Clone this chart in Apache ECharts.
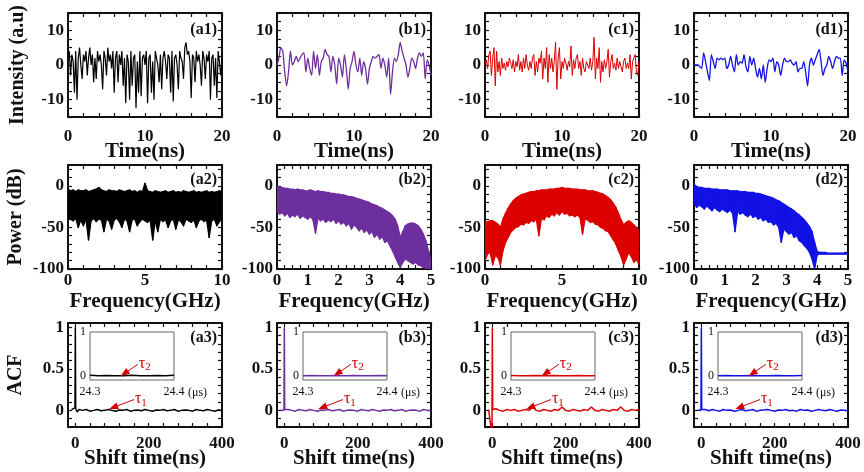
<!DOCTYPE html>
<html>
<head>
<meta charset="utf-8">
<script src="https://cdn.jsdelivr.net/npm/echarts@6/dist/echarts.min.js"></script>
<style>
html, body { margin: 0; padding: 0; background: #fff; }
#chart { width: 864px; height: 472px; }
</style>
</head>
<body>
<div id="chart"></div>
<script>
// ---- data ----
// row 1: intensity time series, 0..20 ns, evenly sampled
var intensityA = [
  2, 4, -3, 3, 1, -8, 4, -10, 2, 5, 0, -4,
  3, 1, 4, -3, 2, 5, 0, 3, -5, 2, -4, 4,
  1, 3, 0, -7, 4, 2, -3, 5, 1, 3, -1, 4,
  -8, 2, 4, -5, 3, 0, 4, -6, 2, -11, 3, 1,
  -10, 4, -6, 2, 3, -12.5, 1, -8, 4, -9, 2, 3,
  0, 4, -11, 2, 3, -8, 1, -10, 4, 2, 0, -5,
  3, -7, 2, 4, 1, -4, 3, 2, -8, 4, -10.5, 2,
  3, 0, -7, 4, 2, 1, -4, 5, 6.5, 3, 4, 1,
  -9.5, 3, 2, -5, 4, 1, 3, 0, -6, 4, 2, -4,
  3, 1, 4, -10, 2, 3, -6, 2, -9.5, 4, 1, -3,
  2
];
var intensityB = [
  0, 2, 5, 4, -2, -6, -2, 4, 0, 1,
  2.5, 1, 2, 3, 3.5, -2, 2, -1, -3, 4,
  -1, 3, -3, 1, 2, 4.5, 3, 2.5, -2, 2.5,
  0, -5.5, 2, 0, -3.5, 3, -1, -7, -1, 1,
  4, 0, -2, 2, -3, 1, -1, -5.5, -1, 1,
  2.5, 2, 2.5, 3, -1, 2, 0, -3.5, 2, -8.5,
  -2, 2, 1, 3, 6.5, 4, 2, 0, -3.5, -1,
  2, 1, -1, 2, 3.5, 2.5, 3.5, -4, 1.5, 0,
  -3
];
var intensityC = [
  0, 1.5, -1, 3, 4, -3, 2, 5, -6, 4, -2, 1,
  -3, 2, -1, 0.5, -1.5, 1, -0.5, 2, 0.5, -1, 1.5, -2,
  1, -0.5, 3, -1.5, 1, -2, 2, -1, 3, 0, -1.5, 1,
  -1, 2, 3, -3, 1, -2, 2, 0.5, 4, -4, 2, -1,
  5, -5, 3, -1, 2, -2, 1, 6.5, -7, 2, 5, -4,
  1, -1, 2, 0.5, -1.5, 1, -0.5, 5.5, -3, 1.5, -1, 2,
  3, -1, 1, -3, 2, -1, -2, 1, 0.5, -1, 2, -1.5,
  1, 8, -4, 2, -1, 5, -5, 1, -2, 1.5, -1, 1,
  4.5, -3.5, 1, 3, -1, 0.5, -1.5, 2, -1, 1, -0.5, -2,
  1, 2, -1, 0.5, -1, 3, -4, 1, 0.5, 3, -2, -3,
  1
];
var intensityD = [
  0, 0, 0, -0.5, -1, 3.5, 1, -2, -4.5, 3,
  1, -1, 2, 1.5, 2, 1.5, 2, -1, 0, 2.5,
  0, -2, 3, 0, 1, 0.5, 3, -0.5, -2, 2.5,
  0, 2, -1, -3.5, -1, -4, 0, -5, -1, 1.5,
  1, 2, -2, 1, 0, -3, 0, 2, 1, 1,
  1.5, 0.5, 0, 1, -2, -1, -1, 1, -2, -6,
  0, 2, 0, 1.5, 3, 4.5, 1, -3, -1, 0,
  2.5, 1, -1, 1, 2.5, 2, 2, -3, 1.5, 0.5,
  -2
];

// row 2: power spectra, upper and lower edge of the trace (dB), evenly sampled
var powerAHigh = [
  -4, -6, -5, -7, -5, -6, -6, -5, -7, -6,
  -5, -4, -2, -5, -6, -7, -5, -6, -6, -7,
  -5, -6, -7, -6, -5, -7, -6, -8, -6, -7,
  3, -6, -7, -8, -6, -7, -8, -7, -6, -8,
  -7, -6, -8, -7, -8, -6, -7, -8, -7, -6,
  -8, -7, -8, -7, -6, -8, -7, -8, -7, -6,
  -7
];
var powerALow = [
  -38, -40, -42, -39, -50, -41, -48, -40, -65, -42,
  -39, -43, -40, -41, -55, -40, -42, -52, -41, -39,
  -43, -50, -40, -42, -55, -41, -40, -48, -43, -40,
  -42, -44, -41, -65, -42, -55, -40, -43, -41, -50,
  -42, -40, -52, -41, -43, -48, -40, -42, -44, -41,
  -50, -42, -40, -43, -41, -62, -42, -40, -48, -43,
  -40
];
var powerBHigh = [
  -1, -2, -2, -3, -3, -4, -4, -5, -4, -5,
  -5, -6, -6, -5, -6, -7, -6, -7, -7, -8,
  -8, -9, -9, -10, -10, -11, -11, -12, -13, -13,
  -14, -15, -16, -17, -18, -19, -20, -22, -23, -24,
  -26, -27, -29, -31, -33, -36, -40, -48, -62, -55,
  -48, -46, -45, -45, -46, -48, -52, -58, -66, -78,
  -92
];
var powerBLow = [
  -30, -34, -32, -36, -33, -38, -35, -37, -34, -39,
  -36, -38, -40, -37, -41, -57, -39, -42, -40, -44,
  -41, -43, -40, -45, -42, -46, -44, -48, -45, -52,
  -47, -50, -54, -51, -56, -53, -58, -55, -62, -58,
  -64, -61, -68, -66, -72, -78, -85, -92, -98, -92,
  -88, -90, -92, -94, -92, -95, -96, -98, -99, -100,
  -100
];
var powerCHigh = [
  -45, -43, -42, -42, -44, -46, -50, -40, -33, -27,
  -22, -18, -15, -13, -11, -10, -9, -8, -7, -7,
  -6, -6, -5, -5, -5, -4, -4, -4, -3, -3,
  -2, -3, -3, -3, -4, -4, -4, -5, -5, -5,
  -6, -6, -6, -7, -8, -9, -10, -12, -14, -17,
  -21, -26, -33, -41, -47, -44, -42, -44, -47, -50,
  -55
];
var powerCLow = [
  -90, -82, -80, -95, -84, -86, -95, -78, -68, -62,
  -56, -53, -50, -49, -46, -47, -44, -45, -42, -43,
  -40, -60, -39, -41, -36, -38, -34, -36, -32, -35,
  -31, -34, -33, -36, -35, -37, -35, -38, -58, -40,
  -41, -44, -43, -46, -47, -50, -51, -54, -55, -60,
  -65, -70, -78, -85, -95, -88, -80, -85, -92, -88,
  -95
];
var powerDHigh = [
  2, -1, -2, -2, -3, -3, -3, -4, -4, -4,
  -5, -5, -5, -5, -6, -6, -6, -6, -7, -7,
  -7, -8, -8, -8, -9, -9, -10, -11, -12, -13,
  -14, -15, -17, -18, -20, -22, -24, -26, -28, -30,
  -33, -35, -38, -41, -45, -49, -55, -68, -79, -80,
  -80, -80, -81, -81, -81, -81, -81, -81, -81, -81,
  -81
];
var powerDLow = [
  -20, -26, -23, -25, -28, -24, -27, -30, -26, -29,
  -31, -28, -30, -32, -29, -33, -55, -31, -34, -32,
  -35, -37, -34, -38, -36, -40, -38, -42, -40, -44,
  -43, -47, -45, -50, -68, -52, -55, -58, -56, -62,
  -60, -66, -68, -72, -75, -80, -88, -100, -83, -82,
  -82, -82, -82, -82, -82, -82, -82, -82, -82, -82,
  -82
];

// row 3: autocorrelation
var acfLag = [
  -10, -5, -1, 0, 1, 5, 10, 20, 30, 40,
  50, 60, 70, 80, 90, 100, 110, 120, 130, 140,
  150, 160, 170, 180, 190, 200, 210, 220, 230, 240,
  250, 260, 270, 280, 290, 300, 310, 320, 330, 340,
  350, 360, 370, 380, 390, 400
];
var acfA = [
  0.01, 0, 0.03, 1, 0.02, -0.02, 0.01, 0, 0.01, -0.01,
  0, 0.01, -0.005, 0, 0.01, 0, -0.01, 0.005, 0, 0.01,
  -0.01, 0, 0.005, -0.005, 0.01, 0, -0.01, 0.005, 0, 0.01,
  -0.005, 0, 0.01, -0.01, 0, 0.005, 0, -0.01, 0.01, 0,
  -0.005, 0.01, 0, -0.01, 0.005, 0
];
var acfB = [
  0, 0.01, 0, 1, 0.01, -0.01, 0.01, 0, -0.01, 0.01,
  0, -0.005, 0.01, 0, -0.01, 0.005, 0, 0.01, -0.005, 0,
  0.01, -0.01, 0, 0.005, 0, -0.01, 0.01, 0, -0.005, 0.01,
  0, -0.01, 0.005, 0, 0.01, -0.005, 0, 0.01, -0.01, 0,
  0.005, 0, -0.01, 0.01, 0, -0.005
];
var acfC = [
  0.01, -0.01, -0.3, 1, 0.01, -0.01, 0.02, 0, -0.01, 0.01,
  0, 0.01, -0.01, 0, 0.01, 0, 0.04, 0, -0.01, 0.01,
  0, -0.01, 0.01, 0, 0.04, 0, -0.01, 0.01, 0, -0.01,
  0.01, 0, 0.04, 0, -0.01, 0.01, 0, -0.01, 0.01, 0,
  0.04, 0, -0.01, 0.01, 0, 0.01
];
var acfD = [
  0, 0.01, 0, 1, 0.01, -0.01, 0.01, -0.005, 0.01, 0,
  -0.01, 0.01, 0, 0.005, -0.01, 0, 0.01, -0.005, 0, 0.01,
  -0.01, 0, 0.005, 0.01, 0, -0.01, 0.005, 0, 0.01, -0.005,
  0, -0.01, 0.01, 0, 0.005, -0.01, 0, 0.01, 0, -0.005,
  0.01, 0, -0.01, 0.005, 0, -0.005
];
// insets: 24.3 .. 24.4 us
var insetLag = [24.30, 24.31, 24.32, 24.33, 24.34, 24.35, 24.36, 24.37, 24.38, 24.39, 24.40];
var insetA = [0.01, 0, 0.005, -0.005, 0, 0.01, 0, -0.005, 0.005, 0, 0.01];
var insetB = [0, 0.005, 0, -0.005, 0.005, 0, 0.005, 0, -0.005, 0.005, 0];
var insetC = [0.005, 0, -0.005, 0.005, 0, 0.005, -0.005, 0, 0.005, 0, 0];
var insetD = [0, 0.005, -0.005, 0, 0.005, 0, -0.005, 0.005, 0, 0, 0.005];

// tick labels
var timeLabels = [0, 10, 20];
var freqLabels10 = [0, 5, 10];
var freqLabels5 = [0, 1, 2, 3, 4, 5];
var shiftLabels = [0, 200, 400];
var intensityLabels = [-10, 0, 10];
var powerLabels = [-100, -50, 0];
var acfLabels = [0, 0.5, 1];
var insetXLabels = [24.3, 24.4];
var insetYLabels = [0, 1];

var panelNames = [
  ['(a1)', '(b1)', '(c1)', '(d1)'],
  ['(a2)', '(b2)', '(c2)', '(d2)'],
  ['(a3)', '(b3)', '(c3)', '(d3)']
];

// ---- layout & style ----
var SERIF = '"Liberation Serif", "Times New Roman", serif';
var INK = '#111';
var RED = '#d40000';
var colors = ['#000000', '#6e2f9e', '#dc0000', '#1212e6'];
var colLeft = [68, 277, 485, 694];
var rowTop = [13, 165, 323];
var plotW = 154, plotH = 104;
var insetLeft = [90, 303, 511, 718];
var insetTop = 332, insetW = 84, insetH = 48;

function range(a, b, s) {
  var r = [];
  for (var k = 0; a + k * s <= b + 1e-9; k++) r.push(+(a + k * s).toFixed(4));
  return r;
}
function sampled(vals, span) {
  var n = vals.length - 1;
  return vals.map(function (v, i) { return [span * i / n, v]; });
}
function paired(xs, ys) {
  return ys.map(function (v, i) { return [xs[i], v]; });
}
// one quad per pair of neighbouring samples: [x0, lo0, hi0, x1, lo1, hi1]
function bandData(lo, hi, span) {
  var n = lo.length - 1, out = [];
  for (var i = 0; i < n; i++) {
    out.push([span * i / n, lo[i], hi[i], span * (i + 1) / n, lo[i + 1], hi[i + 1]]);
  }
  return out;
}
function bandRenderer(col) {
  return function (params, api) {
    var pts = [
      api.coord([api.value(0), api.value(2)]),
      api.coord([api.value(3), api.value(5)]),
      api.coord([api.value(3), api.value(4)]),
      api.coord([api.value(0), api.value(1)])
    ];
    return {
      type: 'polygon', shape: { points: pts },
      style: { fill: col, stroke: col, lineWidth: 1.3, lineJoin: 'round' }
    };
  };
}

var xSpecs = [
  [0, 1, 2, 3].map(function () {
    return { min: 0, max: 20, labels: timeLabels, ticks: range(0, 20, 2), margin: 11, name: 'Time(ns)', nameGap: 24 };
  }),
  [0, 1, 2, 3].map(function (c) {
    var wide = (c % 2 === 0);
    return {
      min: 0, max: wide ? 10 : 5,
      labels: wide ? freqLabels10 : freqLabels5,
      ticks: wide ? range(0, 10, 1) : range(0, 5, 0.25),
      margin: 3, name: 'Frequency(GHz)', nameGap: 22
    };
  }),
  [0, 1, 2, 3].map(function () {
    return { min: -20, max: 400, labels: shiftLabels, ticks: range(0, 400, 40), margin: 8, name: 'Shift time(ns)', nameGap: 21 };
  })
];
var ySpecs = [
  { min: -15, max: 15, labels: intensityLabels, ticks: range(-15, 15, 2.5), margin: 4, name: 'Intensity (a.u)', nameGap: 40 },
  { min: -100, max: 25, labels: powerLabels, ticks: range(-100, 20, 10), margin: 4, name: 'Power (dB)', nameGap: 42 },
  { min: -0.2, max: 1.05, labels: acfLabels, ticks: range(-0.2, 1, 0.1), margin: 4, name: 'ACF', nameGap: 42 }
];

var grids = [], xAxes = [], yAxes = [], series = [], graphics = [];

function frameAxis(kind, gi, spec, mirror, withName) {
  var a = {
    type: 'value', gridIndex: gi, min: spec.min, max: spec.max,
    position: kind === 'x' ? (mirror ? 'top' : 'bottom') : (mirror ? 'right' : 'left'),
    axisLine: { show: true, onZero: false, lineStyle: { color: INK, width: 2 } },
    axisTick: { show: true, inside: true, length: 4, customValues: spec.ticks, lineStyle: { color: INK, width: 1.2 } },
    axisLabel: {
      show: !mirror, customValues: spec.labels, margin: spec.margin,
      color: INK, fontFamily: SERIF, fontWeight: 'bold', fontSize: 17
    },
    splitLine: { show: false },
    silent: true
  };
  if (!mirror && withName) {
    a.name = spec.name;
    a.nameLocation = 'middle';
    a.nameGap = spec.nameGap;
    a.nameMoveOverlap = false;
    a.nameTextStyle = { color: INK, fontFamily: SERIF, fontWeight: 'bold', fontSize: kind === 'x' ? 21 : 20 };
  }
  return a;
}

function tauLabel(sub) {
  return {
    show: true, position: 'start', distance: 1, color: RED,
    formatter: '{t|τ}{s|' + sub + '}',
    rich: {
      t: { fontFamily: SERIF, fontSize: 16, color: RED, lineHeight: 18 },
      s: { fontFamily: SERIF, fontSize: 11, color: RED, verticalAlign: 'bottom', lineHeight: 11 }
    }
  };
}
function tauLine(from, to, sub) {
  return {
    silent: true, animation: false,
    symbol: ['none', 'triangle'], symbolSize: [7, 9],
    lineStyle: { color: RED, width: 1, type: 'solid' },
    itemStyle: { color: RED },
    label: tauLabel(sub),
    emphasis: { disabled: true },
    data: [[{ coord: from }, { coord: to }]]
  };
}

var timeSeries = [intensityA, intensityB, intensityC, intensityD];
var highs = [powerAHigh, powerBHigh, powerCHigh, powerDHigh];
var lows = [powerALow, powerBLow, powerCLow, powerDLow];
var acfs = [acfA, acfB, acfC, acfD];
var insets = [insetA, insetB, insetC, insetD];

for (var r = 0; r < 3; r++) {
  for (var c = 0; c < 4; c++) {
    var gi = grids.length;
    grids.push({ left: colLeft[c], top: rowTop[r], width: plotW, height: plotH, show: false, outerBoundsMode: 'none' });
    var xs = xSpecs[r][c], ys = ySpecs[r];
    var xi = xAxes.length, yi = yAxes.length;
    xAxes.push(frameAxis('x', gi, xs, false, true));
    xAxes.push(frameAxis('x', gi, xs, true, false));
    yAxes.push(frameAxis('y', gi, ys, false, c === 0));
    yAxes.push(frameAxis('y', gi, ys, true, false));

    var col = colors[c];
    if (r === 0) {
      series.push({
        type: 'line', xAxisIndex: xi, yAxisIndex: yi,
        data: sampled(timeSeries[c], 20), showSymbol: false, symbol: 'none',
        smooth: (c % 2 === 1) ? 0.25 : false,
        lineStyle: { color: col, width: c === 0 ? 1.2 : (c % 2 === 1 ? 1.3 : 1) }, itemStyle: { color: col },
        silent: true, animation: false, z: 3
      });
    } else if (r === 1) {
      series.push({
        type: 'custom', xAxisIndex: xi, yAxisIndex: yi,
        data: bandData(lows[c], highs[c], xs.max),
        encode: { x: [0, 3], y: [1, 2, 4, 5] },
        renderItem: bandRenderer(col),
        clip: true, silent: true, animation: false, z: 3
      });
    } else {
      series.push({
        type: 'line', xAxisIndex: xi, yAxisIndex: yi,
        data: paired(acfLag, acfs[c]), showSymbol: false, symbol: 'none',
        lineStyle: { color: col, width: 1.5 }, itemStyle: { color: col },
        silent: true, animation: false, z: 3,
        markLine: tauLine([160, 0.13], [104, 0.035], '1')
      });
    }

    graphics.push({
      type: 'text', silent: true, z: 20,
      x: colLeft[c] + plotW - 5, y: rowTop[r] + (r === 0 ? 17 : 15),
      style: {
        text: panelNames[r][c], fill: INK, fontFamily: SERIF, fontWeight: 'bold', fontSize: 16,
        align: 'right', verticalAlign: 'middle', textAlign: 'right', textVerticalAlign: 'middle'
      }
    });
  }
}

// insets in the ACF panels
for (var c2 = 0; c2 < 4; c2++) {
  var ig = grids.length;
  grids.push({
    left: insetLeft[c2], top: insetTop, width: insetW, height: insetH,
    show: true, borderColor: '#666', borderWidth: 1, backgroundColor: 'transparent', outerBoundsMode: 'none'
  });
  var ixi = xAxes.length, iyi = yAxes.length;
  xAxes.push({
    type: 'value', gridIndex: ig, min: 24.3, max: 24.4, position: 'bottom',
    axisLine: { show: false, onZero: false }, axisTick: { show: false }, splitLine: { show: false },
    axisLabel: { customValues: insetXLabels, margin: 6, color: INK, fontFamily: SERIF, fontSize: 12 },
    name: '(μs)', nameLocation: 'end', nameGap: 14, nameMoveOverlap: false,
    nameTextStyle: { color: INK, fontFamily: SERIF, fontSize: 12, verticalAlign: 'top', padding: [7, 0, 0, 0] },
    silent: true
  });
  yAxes.push({
    type: 'value', gridIndex: ig, min: -0.1, max: 1, position: 'left',
    axisLine: { show: false }, axisTick: { show: false }, splitLine: { show: false },
    axisLabel: { customValues: insetYLabels, margin: 4, color: INK, fontFamily: SERIF, fontSize: 12 },
    silent: true
  });
  series.push({
    type: 'line', xAxisIndex: ixi, yAxisIndex: iyi,
    data: paired(insetLag, insets[c2]), showSymbol: false, symbol: 'none',
    lineStyle: { color: colors[c2], width: 1.5 }, itemStyle: { color: colors[c2] },
    silent: true, animation: false, z: 3,
    markLine: tauLine([24.357, 0.26], [24.341, 0.05], '2')
  });
}

var chart = echarts.init(document.getElementById('chart'), null, { renderer: 'canvas' });
chart.setOption({
  backgroundColor: '#fff',
  animation: false,
  grid: grids,
  xAxis: xAxes,
  yAxis: yAxes,
  series: series,
  graphic: graphics
});
</script>
</body>
</html>
